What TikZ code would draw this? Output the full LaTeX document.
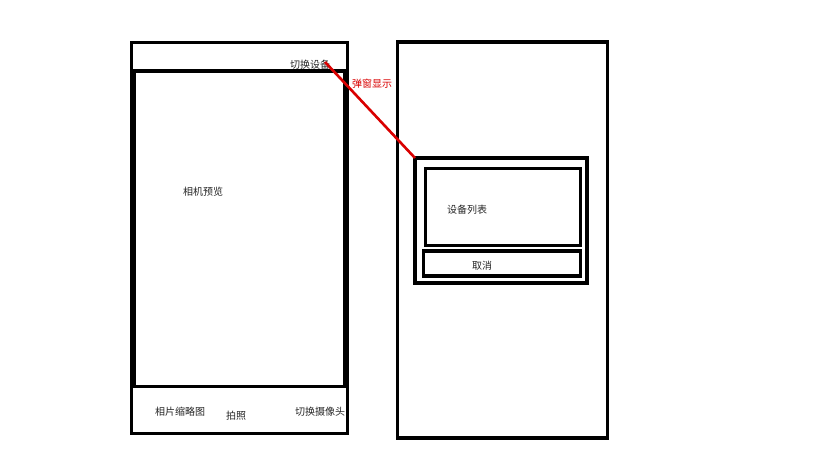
\documentclass[tikz,border=0pt]{standalone}
\usepackage{fontspec}
\newfontfamily\cjk{Noto Sans CJK SC}
\begin{document}
\begin{tikzpicture}[x=1pt,y=-1pt,
  frame/.style={draw=black,line width=3.2pt,inner sep=0pt,outer sep=0pt,anchor=north west},
  lbl/.style={font=\cjk\fontsize{10}{12}\selectfont,inner sep=0pt,text=black!85},
  redlbl/.style={font=\cjk\fontsize{10}{12}\selectfont,inner sep=0pt,text=red!85!black}]
\useasboundingbox[fill=white] (0,0) rectangle (820,461);
% left phone
\node[frame,minimum width=216pt,minimum height=391pt] (phoneL) at (131.5,42.5) {};
\draw[line width=3.2pt] (phoneL.north west |- 0,71) coordinate (barL) -- (phoneL.north east |- 0,71) coordinate (barR);
\node[frame,minimum width=210pt,minimum height=315.5pt] (preview) at (134.8,71) {};
\node[lbl] (pv) at (203,192) {相机预览};
\node[lbl] (sw) at (310,65) {切换设备};
\node[lbl] (thumb) at (180,412) {相片缩略图};
\node[lbl] (shot) at (236,416) {拍照};
\node[lbl] (cam) at (320,412) {切换摄像头};
% right phone
\node[frame,minimum width=210pt,minimum height=396pt] (phoneR) at (397.5,42) {};
\node[frame,minimum width=172pt,minimum height=125pt] (dialog) at (415,158) {};
\node[frame,minimum width=155pt,minimum height=77pt] (list) at (425.5,168.5) {};
\node[frame,minimum width=157pt,minimum height=25pt] (cancel) at (423.5,251) {};
\node[lbl] (lt) at (467,210) {设备列表};
\node[lbl] (ct) at (482,266) {取消};
% popup connector
\coordinate (src) at (325,62);
\draw[red!85!black,line width=2.6pt] (src) -- (dialog.north west);
\node[redlbl] (pop) at (372,84) {弹窗显示};
\end{tikzpicture}
\end{document}
